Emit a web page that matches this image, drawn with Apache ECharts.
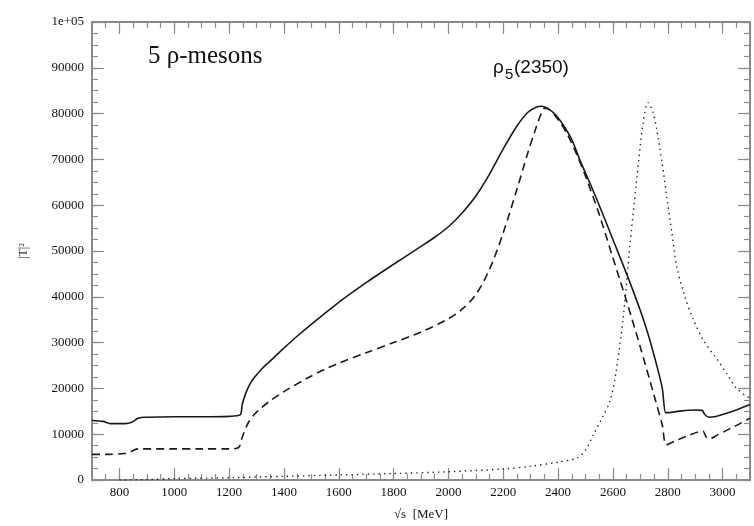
<!DOCTYPE html>
<html>
<head>
<meta charset="utf-8">
<script src="https://cdn.jsdelivr.net/npm/echarts@6/dist/echarts.min.js"></script>
<style>
  html, body { margin: 0; padding: 0; background: #fff; }
  #main { width: 754px; height: 526px; }
</style>
</head>
<body>
<div id="main"></div>
<script>
// tick labels
var xTicks = [800, 1000, 1200, 1400, 1600, 1800, 2000, 2200, 2400, 2600, 2800, 3000];
var yTickLabels = ['0', '10000', '20000', '30000', '40000', '50000', '60000', '70000', '80000', '90000', '1e+05'];

// solid curve: sqrt(s) [MeV] and |T|^2
var solidS = [700, 740, 770, 820, 845, 868, 900, 1000, 1100, 1200, 1240, 1248, 1260, 1275, 1290, 1320, 1350, 1400, 1450, 1500,
  1600, 1700, 1800, 1900, 1950, 2000, 2050, 2100, 2150, 2200, 2250, 2290, 2320, 2340, 2360, 2390, 2420, 2450, 2480, 2520,
  2560, 2600, 2650, 2700, 2730, 2760, 2780, 2792, 2800, 2850, 2900, 2925, 2935, 2950, 2970, 3000, 3050, 3100];
var solidT = [13000, 12800, 12300, 12300, 12600, 13500, 13700, 13800, 13800, 13900, 14200, 16500, 18800, 20800, 22200, 24300, 26000, 28800, 31500, 34000,
  38800, 43100, 47100, 51000, 53000, 55300, 58300, 62000, 66800, 72300, 77300, 80300, 81400, 81600, 81200, 79800, 77400, 74300, 69800, 64300,
  58500, 52500, 45000, 37000, 31500, 25000, 20000, 14700, 14700, 15100, 15300, 15200, 14300, 13700, 13800, 14300, 15300, 16500];

// dashed curve
var dashS = [700, 760, 820, 845, 868, 1000, 1100, 1200, 1235, 1245, 1252, 1270, 1290, 1313, 1350, 1400, 1484, 1550, 1600, 1700,
  1800, 1900, 2000, 2050, 2100, 2150, 2200, 2250, 2290, 2320, 2340, 2352, 2370, 2400, 2431, 2470, 2504, 2550, 2600, 2650,
  2700, 2750, 2780, 2795, 2830, 2870, 2910, 2928, 2940, 2952, 2980, 3020, 3060, 3100];
var dashT = [5600, 5600, 5800, 6300, 6800, 6800, 6800, 6800, 7100, 8800, 10000, 12500, 14200, 15500, 17300, 19300, 22200, 24200, 25500, 27800,
  30000, 32300, 35200, 37300, 40500, 46000, 54000, 63500, 71500, 77000, 80200, 81200, 80800, 78700, 75800, 70800, 65700, 58000, 48500, 39000,
  29000, 18500, 12000, 7700, 8600, 9600, 10500, 10700, 9400, 9000, 9800, 11000, 12200, 13500];

// dotted curve
var dotS = [800, 900, 1000, 1200, 1400, 1600, 1800, 2000, 2200, 2300, 2400, 2469, 2500, 2528, 2560, 2589, 2610, 2637, 2662, 2687,
  2710, 2728, 2745, 2760, 2780, 2796, 2815, 2832, 2860, 2892, 2930, 2978, 3020, 3051, 3100];
var dotT = [0, 100, 300, 500, 800, 1100, 1400, 1800, 2400, 3000, 3900, 4800, 6500, 9800, 13500, 17200, 23000, 35200, 51200, 65700,
  78000, 82400, 80500, 76500, 69000, 62000, 54000, 46800, 40500, 35200, 30500, 26500, 22800, 20000, 17800];

function zip(a, b) {
  var out = [];
  for (var i = 0; i < a.length; i++) out.push([a[i], b[i]]);
  return out;
}

var xMinor = [];
for (var v = 700; v <= 3100; v += 50) xMinor.push(v);
var yMajor = [];
for (var w = 0; w <= 100000; w += 10000) yMajor.push(w);
var yMinor = [];
for (var u = 0; u <= 100000; u += 2500) yMinor.push(u);

var axisCol = '#8a8a8a';
var txtCol = '#111';
var serif = 'Liberation Serif';

function xAx(pos, ticks, len, withLabels, withLine) {
  return {
    type: 'value', min: 700, max: 3100, position: pos,
    axisLine: { show: withLine, onZero: false, lineStyle: { color: axisCol, width: 2 } },
    axisTick: { show: true, inside: true, length: len, customValues: ticks, lineStyle: { color: axisCol, width: 1.2 } },
    axisLabel: withLabels
      ? { show: true, customValues: xTicks, color: txtCol, fontFamily: serif, fontSize: 13, margin: 6,
          formatter: function (val) { return String(val); } }
      : { show: false },
    splitLine: { show: false },
    name: withLabels ? '\u221As  [MeV]' : '',
    nameLocation: 'middle', nameGap: 28,
    nameTextStyle: { color: txtCol, fontFamily: serif, fontSize: 13 }
  };
}
function yAx(pos, ticks, len, withLabels, withLine) {
  return {
    type: 'value', min: 0, max: 100000, position: pos,
    axisLine: { show: withLine, onZero: false, lineStyle: { color: axisCol, width: 2 } },
    axisTick: { show: true, inside: true, length: len, customValues: ticks, lineStyle: { color: axisCol, width: 1.2 } },
    axisLabel: withLabels
      ? { show: true, customValues: yMajor, color: txtCol, fontFamily: serif, fontSize: 13, margin: 8,
          formatter: function (val) { return yTickLabels[Math.round(val / 10000)]; } }
      : { show: false },
    splitLine: { show: false },
    name: withLabels ? '|T|\u00B2' : '',
    nameLocation: 'middle', nameGap: 62, nameRotate: 90,
    nameTextStyle: { color: '#333', fontFamily: serif, fontSize: 12 }
  };
}

var chart = echarts.init(document.getElementById('main'));
var option = {
  animation: false,
  backgroundColor: '#fff',
  grid: { left: 92, right: 4, top: 22, bottom: 44, containLabel: false },
  xAxis: [
    xAx('bottom', xTicks, 12, true, true),
    xAx('bottom', xMinor, 6, false, false),
    xAx('top', xTicks, 12, false, true),
    xAx('top', xMinor, 6, false, false)
  ],
  yAxis: [
    yAx('left', yMajor, 12, true, true),
    yAx('left', yMinor, 6, false, false),
    yAx('right', yMajor, 12, false, true),
    yAx('right', yMinor, 6, false, false)
  ],
  series: [
    {
      name: 'solid', type: 'line', showSymbol: false, smooth: 0.3,
      data: zip(solidS, solidT),
      lineStyle: { color: '#1a1a1a', width: 1.6, type: 'solid' }
    },
    {
      name: 'dashed', type: 'line', showSymbol: false, smooth: 0.3,
      data: zip(dashS, dashT),
      lineStyle: { color: '#1a1a1a', width: 1.6, type: [8, 5] }
    },
    {
      name: 'dotted', type: 'line', showSymbol: false, smooth: 0.3,
      data: zip(dotS, dotT),
      lineStyle: { color: '#222', width: 1.4, type: [1.4, 4] }
    }
  ],
  graphic: [
    { type: 'text', left: 148, top: 44, style: { text: '5 \u03C1-mesons', fill: txtCol, font: '25px "Liberation Serif"' } },
    { type: 'text', left: 493, top: 58, style: { text: '\u03C1', fill: txtCol, font: '19px "Liberation Sans"' } },
    { type: 'text', left: 505, top: 67, style: { text: '5', fill: txtCol, font: '15px "Liberation Sans"' } },
    { type: 'text', left: 514, top: 58, style: { text: '(2350)', fill: txtCol, font: '19px "Liberation Sans"' } }
  ]
};
chart.setOption(option);
</script>
</body>
</html>
